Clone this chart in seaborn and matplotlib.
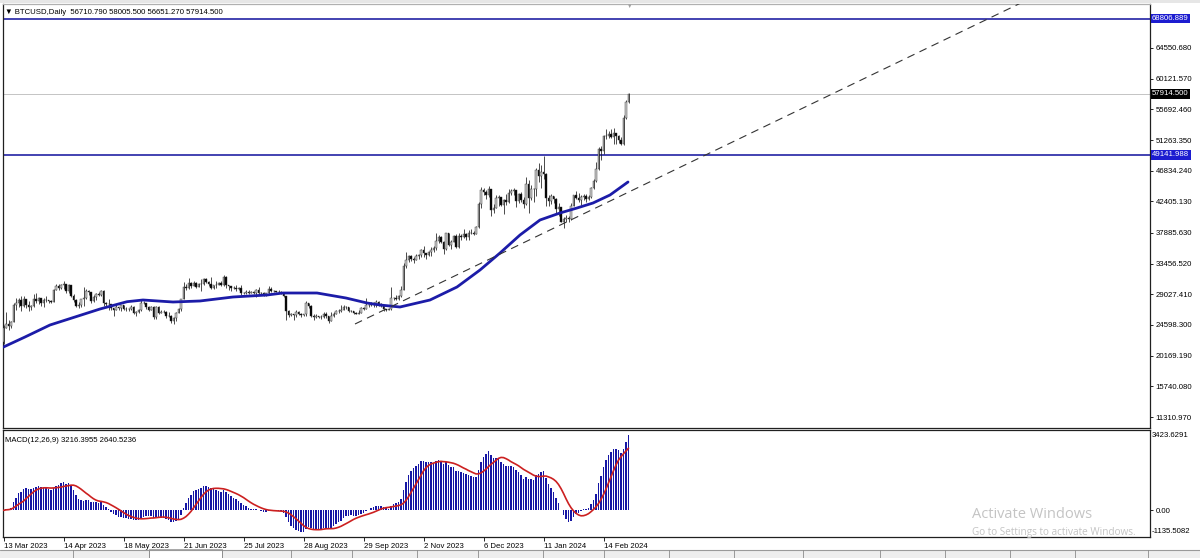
import numpy as np
import pandas as pd
import matplotlib
matplotlib.use('Agg')
import matplotlib.pyplot as plt
import matplotlib.transforms as mtransforms
from matplotlib.patches import Rectangle
from matplotlib.lines import Line2D
import seaborn as sns

# daily bars (weekdays, 25 Dec and 1 Jan missing), 13 Mar 2023 .. 28 Feb 2024
FIRST_OPEN = 22150
CLOSE = [
    24197, 24746, 24375, 25052, 27423,
    27767, 28175, 27307, 28333, 27493,
    27139, 27268, 28348, 28033, 28478,
    27800, 28168, 28177, 28044, 27926,
    29653, 30235, 29892, 30400, 30485,
    29431, 30380, 28822, 28245, 27277,
    27514, 28308, 28423, 29474, 29340,
    28066, 28680, 29009, 28845, 29535,
    27704, 27628, 27621, 26992, 26804,
    27170, 27033, 27404, 26832, 26890,
    26853, 27226, 26334, 26477, 26720,
    27703, 27703, 27219, 26820, 27250,
    25731, 27236, 26346, 26498, 26478,
    25905, 25922, 25124, 25576, 26330,
    26841, 28312, 30016, 29890, 30689,
    30271, 30688, 30086, 30445, 30477,
    31156, 30767, 30514, 29909, 30346,
    30414, 30620, 30391, 31476, 30334,
    30142, 29862, 29914, 29804, 29910,
    29178, 29230, 29351, 29222, 29318,
    29230, 29705, 29187, 29183, 29077,
    29180, 29766, 29562, 29429, 29397,
    29408, 29170, 28701, 26664, 26049,
    26124, 26031, 26432, 26163, 26049,
    26106, 27727, 27297, 25932, 25800,
    25841, 25780, 25753, 26240, 25905,
    25162, 25841, 26228, 26539, 26608,
    26760, 27211, 27132, 26567, 26580,
    26300, 26221, 26372, 27021, 26911,
    27500, 27429, 27799, 27415, 27946,
    27590, 27391, 26873, 26756, 26862,
    28519, 28415, 28329, 28720, 29682,
    33087, 33902, 34502, 34156, 33910,
    34502, 34667, 35437, 34938, 34732,
    35082, 35425, 35633, 36702, 37313,
    36491, 35537, 37859, 36163, 36613,
    37476, 35814, 37432, 37289, 37721,
    37254, 37831, 37858, 37713, 38688,
    41992, 44080, 43769, 43293, 44170,
    41244, 41450, 42890, 43023, 41929,
    42660, 42260, 43652, 43870, 43997,
    42520, 43442, 42582, 42070,
    44940, 42849, 44180, 44162,
    47000, 46124, 46632, 46370, 42853,
    42510, 43154, 42742, 41262, 41618,
    39507, 39845, 40077, 39933, 41816,
    43300, 42946, 42582, 43082, 43194,
    42700, 43090, 44340, 45290, 47130,
    49960, 49700, 51840, 51920, 52160,
    51780, 52260, 51840, 51300, 50730,
    54520, 56710.79, 57914.5,
]
HIGH = [
    24550, 26500, 25250, 25200, 27750,
    28450, 28500, 28800, 28750, 28400,
    28000, 27500, 29000, 29150, 28650,
    28500, 28450, 28750, 28200, 28150,
    29750, 30550, 30450, 30500, 31000,
    30550, 30450, 30400, 29050, 28350,
    27900, 28400, 30000, 29850, 29600,
    29400, 28900, 29250, 29300, 29700,
    29600, 27850, 28300, 27650, 27050,
    27600, 27250, 27450, 27450, 27150,
    27050, 27450, 27300, 26550, 26900,
    28400, 28000, 27800, 27300, 27300,
    27300, 27350, 27350, 26800, 26750,
    26600, 26400, 26050, 25750, 26450,
    27000, 28400, 30750, 30500, 31400,
    30750, 31000, 30750, 30700, 31250,
    31350, 31300, 30900, 31500, 30400,
    30950, 30800, 30950, 31800, 31600,
    30350, 30250, 30200, 30400, 30050,
    30300, 29350, 29650, 29600, 29550,
    29500, 29750, 30000, 29400, 29300,
    29250, 30150, 30100, 29700, 29550,
    29650, 29450, 29250, 28750, 26800,
    26300, 26150, 26800, 26550, 26300,
    26200, 28100, 27750, 27450, 26150,
    26100, 25900, 26000, 26400, 26400,
    25950, 26500, 26400, 26800, 26850,
    27400, 27450, 27300, 27150, 26700,
    26600, 26400, 26800, 27250, 27200,
    28550, 27650, 27850, 27950, 28250,
    28000, 27800, 27450, 26950, 27050,
    30000, 28600, 28950, 28900, 30200,
    33550, 35150, 34750, 34700, 34450,
    34800, 34850, 35550, 35950, 34950,
    35250, 35850, 35950, 37900, 37500,
    37400, 36700, 37900, 37900, 36800,
    37600, 37650, 37800, 37650, 38400,
    37850, 38300, 38400, 38150, 38850,
    42400, 44450, 44300, 44000, 44700,
    44250, 42100, 43400, 43400, 43100,
    42700, 43450, 44250, 44200, 44350,
    44050, 43650, 43800, 43100,
    45900, 45500, 44800, 44400,
    47250, 47900, 47700, 48950, 46500,
    43300, 43550, 43200, 42900, 42200,
    41650, 40100, 40500, 40300, 42200,
    43350, 43850, 43700, 43300, 43450,
    43500, 43400, 44500, 45600, 48100,
    50300, 50350, 52000, 52800, 52550,
    52900, 52950, 52350, 52000, 51650,
    54900, 57100, 58005.5,
]
LOW = [
    21900, 24150, 23900, 24200, 25000,
    26700, 27200, 26650, 27150, 27050,
    26550, 26700, 27250, 27700, 27550,
    27300, 27250, 27850, 27800, 27800,
    27850, 29600, 29700, 29850, 29850,
    29250, 29150, 28600, 27950, 27150,
    27050, 27200, 27300, 28400, 28900,
    27700, 27900, 28150, 28700, 28700,
    27300, 27350, 26800, 26800, 25900,
    26700, 26750, 26650, 26700, 26650,
    26600, 26800, 26100, 25900, 26350,
    26650, 27550, 26900, 26600, 26700,
    25400, 25400, 26150, 26300, 26300,
    25650, 25750, 24850, 24800, 25200,
    26250, 26600, 28300, 29600, 29850,
    29950, 30250, 29950, 30050, 29550,
    30400, 30650, 30250, 29800, 29750,
    29950, 30300, 30250, 30250, 29950,
    29700, 29550, 29750, 29550, 29700,
    28900, 29050, 29100, 29100, 29150,
    29000, 28600, 28900, 28950, 28800,
    28750, 29100, 29400, 29350, 29300,
    29250, 29050, 28650, 25300, 25700,
    25850, 25350, 25800, 26000, 25800,
    25900, 25950, 27050, 25700, 25350,
    25600, 25600, 25400, 25600, 25650,
    24900, 25150, 25750, 26150, 26250,
    26400, 26700, 26850, 26400, 26500,
    26100, 26100, 26100, 26300, 26700,
    26850, 27200, 27350, 27250, 27200,
    27350, 27250, 26600, 26550, 26700,
    26800, 28150, 28200, 28200, 28650,
    29600, 32850, 33700, 33800, 33550,
    33900, 34150, 34350, 34350, 34100,
    34550, 34550, 35150, 35450, 36350,
    36350, 34850, 35400, 35950, 35600,
    36500, 35650, 35700, 36900, 37200,
    36900, 36800, 37650, 37600, 37650,
    38600, 41400, 43350, 42800, 43100,
    40300, 40700, 41400, 41700, 41700,
    40600, 41900, 42150, 43400, 43350,
    41600, 42150, 42300, 41500,
    41900, 40800, 42650, 42400,
    43200, 45250, 44350, 45700, 41800,
    41750, 42050, 42200, 40700, 40300,
    39450, 38550, 39500, 39500, 39800,
    41800, 42700, 42300, 41900, 42600,
    42300, 42600, 42850, 44150, 45250,
    47000, 48350, 49300, 51350, 51600,
    51550, 50700, 50650, 50850, 50550,
    50550, 54300, 56651.27,
]
MISSING_DAYS = ['2023-12-25', '2024-01-01']

# moving average (bar number, price)
MA_BARS = [0, 8.6, 18.6, 28.6, 38.6, 49.4, 55.8, 67.8, 78.6, 91.8, 105.4, 111.8,
           125.4, 137.0, 145.4, 150.6, 158.6, 170.6, 181.4, 190.6, 198.6, 206.6,
           214.6, 222.6, 229.4, 235.8, 242.6, 249.8]
MA_VALUES = [21411, 22853, 24585, 25739, 26893, 27946, 28192, 27903, 28050, 28625,
             28913, 29202, 29202, 28480, 27759, 27470, 27182, 28192, 30068, 32520,
             34973, 37570, 39735, 40744, 41465, 42187, 43341, 45217]

# dashed trend line anchors (bar number, price)
TREND_BARS = [140.6, 408.6]
TREND_PRICES = [24729, 71332]

LEVELS = [68806.889, 49141.988]
LEVEL_LABELS = ['68806.889', '49141.988']
LAST_PRICE = 57914.5
LAST_LABEL = '57914.500'

PRICE_TICKS = [64550.680, 60121.570, 55692.460, 51263.350, 46834.240, 42405.130,
               37885.630, 33456.520, 29027.410, 24598.300, 20169.190, 15740.080, 11310.970]
PRICE_TICK_LABELS = ['64550.680', '60121.570', '55692.460', '51263.350', '46834.240',
                     '42405.130', '37885.630', '33456.520', '29027.410', '24598.300',
                     '20169.190', '15740.080', '11310.970']
DATE_LABELS = ['13 Mar 2023', '14 Apr 2023', '18 May 2023', '21 Jun 2023', '25 Jul 2023',
               '28 Aug 2023', '29 Sep 2023', '2 Nov 2023', '6 Dec 2023', '11 Jan 2024',
               '14 Feb 2024']

TITLE = '\u25bc BTCUSD,Daily  56710.790 58005.500 56651.270 57914.500'
MACD_TITLE = 'MACD(12,26,9) 3216.3955 2640.5236'
MACD_MAX, MACD_MIN = 3423.6291, -1135.5082

# pixel edges of the terminal tabs under the chart
TAB_EDGES = [73, 149, 222, 291, 352, 417, 478, 543, 604, 669, 734, 803, 880, 945, 1010, 1075, 1148]

# ---------------------------------------------------------------
sns.set_style('white')
plt.rcParams['font.family'] = ['Liberation Sans', 'DejaVu Sans']

dates = pd.bdate_range('2023-03-13', '2024-02-28')
dates = dates[~dates.isin(pd.to_datetime(MISSING_DAYS))]
close = np.array(CLOSE, dtype=float)
high = np.array(HIGH, dtype=float)
low = np.array(LOW, dtype=float)
opn = np.concatenate([[FIRST_OPEN], close[:-1]])
idx = np.arange(len(close))
assert len(dates) == len(close) == len(high) == len(low)

names = [f'{d.day} {d:%b %Y}' for d in dates]
tick_pos = [names.index(s) for s in DATE_LABELS]

s = pd.Series(close)
macd = s.ewm(span=12, adjust=False).mean() - s.ewm(span=26, adjust=False).mean()
signal = macd.rolling(9, min_periods=1).mean()

W, H = 1200, 558
fig = plt.figure(figsize=(12, 5.58), dpi=100)
ax = fig.add_axes([3 / W, 1 - 428 / H, 1147 / W, 424 / H])
axm = fig.add_axes([3 / W, 1 - 537 / H, 1147 / W, 107 / H])

xmin, xmax = -0.2, 458.6

# price window
ax.axhline(LAST_PRICE, color='#c4c4c4', lw=0.7, zorder=1)
for lv in LEVELS:
    ax.axhline(lv, color='#10109c', lw=1.1, zorder=2)

up = close >= opn
ax.vlines(idx, low, high, color='#1a1a1a', lw=0.55, zorder=3)
ax.bar(idx, np.abs(close - opn), bottom=np.minimum(opn, close), width=0.62,
       color=np.where(up, '#cccccc', 'black'), edgecolor='#2a2a2a', linewidth=0.3, zorder=4)

sns.lineplot(x=MA_BARS, y=MA_VALUES, ax=ax, color='#1c1ca8', linewidth=2.0, zorder=5)
ax.plot(TREND_BARS, TREND_PRICES, color='#333333', lw=0.8, ls=(0, (7, 5)), zorder=5)

ax.set_xlim(xmin, xmax)
ax.set_ylim(9724, 70899)
ax.set_xticks([])
ax.yaxis.tick_right()
ax.set_yticks(PRICE_TICKS)
ax.set_yticklabels(PRICE_TICK_LABELS)
ax.tick_params(axis='y', direction='out', length=2.5, width=0.6, pad=1.5,
               labelsize=5.6, colors='black', right=True, left=False)
ax.set_xlabel('')
ax.set_ylabel('')

trans = mtransforms.blended_transform_factory(ax.transAxes, ax.transData)
for lv, lab in zip(LEVELS, LEVEL_LABELS):
    ax.text(1.0018, lv, lab, transform=trans, ha='left', va='center', fontsize=5.6,
            color='white', bbox=dict(boxstyle='square,pad=0.18', fc='#1c1cd0', ec='none'),
            clip_on=False, zorder=10)
ax.text(1.0018, LAST_PRICE, LAST_LABEL, transform=trans, ha='left', va='center', fontsize=5.6,
        color='white', bbox=dict(boxstyle='square,pad=0.18', fc='black', ec='none'),
        clip_on=False, zorder=10)
ax.text(0.0017, 0.981, TITLE, transform=ax.transAxes, ha='left', va='center',
        fontsize=5.6, color='black')

for side in ['left', 'right', 'bottom']:
    ax.spines[side].set_color('#202020')
    ax.spines[side].set_linewidth(0.9)
ax.spines['top'].set_color('#b0b0b0')
ax.spines['top'].set_linewidth(0.9)

# MACD window
axm.bar(idx, macd, width=0.62, color='#1616a4', linewidth=0, zorder=2)
sns.lineplot(x=idx, y=signal, ax=axm, color='#cc2020', linewidth=1.2, zorder=3)
axm.set_xlim(xmin, xmax)
axm.set_ylim(MACD_MIN, MACD_MAX)
axm.yaxis.tick_right()
axm.set_yticks([0])
axm.set_yticklabels(['0.00'])
axm.tick_params(axis='y', direction='out', length=2.5, width=0.6, pad=1.5,
                labelsize=5.6, colors='black', right=True, left=False)
axm.set_xticks(tick_pos)
axm.set_xticklabels(DATE_LABELS, ha='left')
axm.tick_params(axis='x', direction='out', length=3, width=0.6, pad=1.5,
                labelsize=5.6, colors='black', bottom=True)
axm.set_xlabel('')
axm.set_ylabel('')
axm.text(1.0018, 0.985, '3423.6291', transform=axm.transAxes, ha='left', va='top',
         fontsize=5.6, color='black')
axm.text(1.0018, 0.02, '-1135.5082', transform=axm.transAxes, ha='left', va='bottom',
         fontsize=5.6, color='black')
axm.text(0.0017, 0.905, MACD_TITLE, transform=axm.transAxes, ha='left', va='center',
         fontsize=5.6, color='black')
for side in axm.spines:
    axm.spines[side].set_color('#202020')
    axm.spines[side].set_linewidth(0.9)

# terminal frame around the chart
fig.add_artist(Rectangle((0, 1 - 3 / H), 1, 3 / H, transform=fig.transFigure,
                         fc='#e6e6e6', ec='none'))
fig.text(630 / W, 1 - 6 / H, '\u25bc', fontsize=4, color='#a0a0a0', ha='center', va='center')
fig.add_artist(Rectangle((0, 0), 1, 8 / H, transform=fig.transFigure, fc='#eeeeee', ec='none'))
fig.add_artist(Line2D([0, 1], [8 / H, 8 / H], transform=fig.transFigure, color='#9a9a9a', lw=0.8))
fig.add_artist(Rectangle((149 / W, 0), 73 / W, 9.5 / H, transform=fig.transFigure,
                         fc='white', ec='#9a9a9a', lw=0.6))
for xe in TAB_EDGES:
    fig.add_artist(Line2D([xe / W, xe / W], [0, 8 / H], transform=fig.transFigure,
                          color='#8a8a8a', lw=0.6))

# windows watermark
fig.text(972 / W, 1 - 515 / H, 'Activate Windows', fontsize=10.5, color='#c4c4c4',
         family=['Open Sans', 'DejaVu Sans'], ha='left', va='center', zorder=20)
fig.text(972 / W, 1 - 533 / H, 'Go to Settings to activate Windows.', fontsize=7.2,
         color='#c4c4c4', family=['Open Sans', 'DejaVu Sans'], ha='left', va='center', zorder=20)

fig.savefig('out.png', dpi=100, facecolor='white')
